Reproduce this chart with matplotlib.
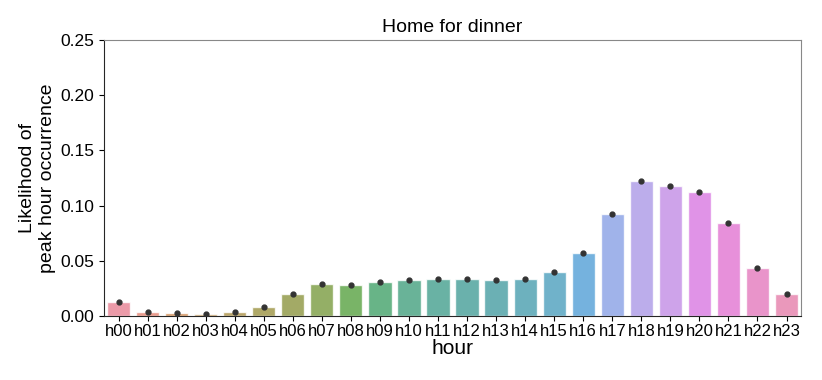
import numpy as np
import matplotlib
matplotlib.use("Agg")
import matplotlib.pyplot as plt
import seaborn as sns

# --- data ---
hours = ["h%02d" % i for i in range(24)]
likelihood = [0.0124, 0.0039, 0.0024, 0.0021, 0.0033, 0.0084, 0.0202, 0.0293,
              0.0284, 0.0308, 0.0323, 0.0332, 0.0335, 0.0326, 0.0338, 0.0401,
              0.0568, 0.0927, 0.1220, 0.1180, 0.1123, 0.0842, 0.0432, 0.0197]

sns.set_style("ticks")
plt.rcParams['font.family'] = ['Liberation Sans', 'DejaVu Sans']
plt.rcParams['text.color'] = 'black'
plt.rcParams['axes.labelcolor'] = 'black'
plt.rcParams['xtick.color'] = 'black'
plt.rcParams['ytick.color'] = 'black'

fig = plt.figure(figsize=(8.22, 3.8), dpi=100)
ax = fig.add_axes([0.1265, 0.1684, 0.848, 0.7263])

sns.barplot(x=hours, y=likelihood, hue=hours, palette="husl", legend=False, ax=ax,
            alpha=0.8, edgecolor='white', linewidth=1)
ax.plot(range(len(hours)), likelihood, 'o', color='#333333', markersize=3.5, zorder=5)

ax.set_ylim(0, 0.25)
ax.set_xlim(-0.5, 23.5)
ax.set_yticks([0, 0.05, 0.10, 0.15, 0.20, 0.25])
ax.set_yticklabels(["0.00", "0.05", "0.10", "0.15", "0.20", "0.25"])
ax.tick_params(axis='y', labelsize=12.5)
ax.tick_params(axis='x', labelsize=12, pad=2)
ax.set_xlabel("hour", fontsize=15, labelpad=0)
ax.set_ylabel("Likelihood of\npeak hour occurrence", fontsize=14, linespacing=1.2, labelpad=3)
ax.set_title("Home for dinner", fontsize=14)
for s in ['top', 'right']:
    ax.spines[s].set_color('#888888')

fig.savefig("out.png", dpi=100)
